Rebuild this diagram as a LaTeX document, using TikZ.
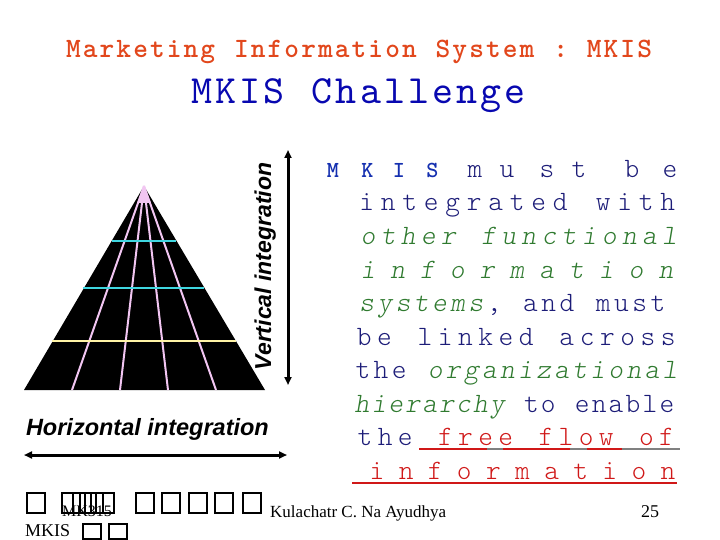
\documentclass[tikz,border=0pt]{standalone}
\usepackage{fontspec}
\usetikzlibrary{arrows.meta}
\newfontfamily\cour{lmmonolt10-regular}[Extension=.otf]
\newfontfamily\courit{lmmonolt10-oblique}[Extension=.otf]
\newfontfamily\courm{lmmono10-regular}[Extension=.otf]
\newfontfamily\courb{lmmonolt10-bold}[Extension=.otf]
\newfontfamily\arialf{Liberation Sans}
\newfontfamily\tnr{Liberation Serif}
\definecolor{titlered}{HTML}{E2471C}
\definecolor{chblue}{HTML}{0808B0}
\definecolor{navy}{HTML}{1C1C78}
\definecolor{greenc}{HTML}{2F7A2F}
\definecolor{redc}{HTML}{D01818}
\definecolor{mkisblue}{HTML}{1530B0}
\definecolor{pinkc}{HTML}{F2C6F2}
\definecolor{cyanc}{HTML}{3FD6E0}
\definecolor{yellowc}{HTML}{FFF3A6}
\definecolor{grayc}{HTML}{808080}
\makeatletter
\def\spc@end{\spc@end}
\newcommand\spread[2]{\def\spc@p{#1}\spc@go#2\spc@end}
\def\spc@go#1{\ifx#1\spc@end\else\hbox to \spc@p{\hss#1\hss}\expandafter\spc@go\fi}
\makeatother
\newcommand\bodyfont{\cour\fontsize{28}{28}\selectfont}
\tikzset{
  lbl/.style={inner sep=0pt,outer sep=0pt,anchor=base west},
  chr/.style={inner sep=0pt,outer sep=0pt,anchor=base},
  pinkline/.style={draw=pinkc,line width=2pt},
  bar/.style={line width=2.8pt},
  dblarrow/.style={line width=3pt,{Triangle[length=8pt,width=7pt]}-{Triangle[length=8pt,width=7pt]}},
  ulred/.style={draw=redc,line width=2.4pt},
  ulgray/.style={draw=grayc,line width=2.4pt},
  tofu/.style={draw,line width=1.8pt,minimum width=18pt,minimum height=20pt,inner sep=0pt,anchor=north west},
  tofub/.style={tofu,minimum height=15pt},
  foot/.style={inner sep=0pt,anchor=base west,font=\tnr\fontsize{17}{17}\selectfont}
}
\begin{document}
\begin{tikzpicture}[x=1pt,y=-1pt]
\useasboundingbox[fill=white] (0,0) rectangle (720,540);
% titles
\node[lbl,text=titlered,font=\courb\fontsize{28}{28}\selectfont] (title) at (65,58)
  {\spread{16.8pt}{Marketing~Information~System~:~MKIS}};
\node[lbl,text=chblue,font=\courm\fontsize{40}{40}\selectfont] (sub) at (190,104)
  {\spread{24.07pt}{MKIS~Challenge}};
% pyramid
\coordinate (apex) at (144,186);
\coordinate (bl) at (24,390);
\coordinate (br) at (265,390);
\fill[black] (apex) -- (bl) -- (br) -- cycle;
\fill[pinkc] (apex) -- (137,203) -- (151,203) -- cycle;
\coordinate (p1) at (72,390);
\coordinate (p2) at (120,390);
\coordinate (p3) at (168,390);
\coordinate (p4) at (216,390);
\foreach \p in {p1,p2,p3,p4} \draw[pinkline] (apex) -- (\p);
\coordinate (c1a) at (112,241); \coordinate (c1b) at (176,241);
\coordinate (c2a) at (83,288);  \coordinate (c2b) at (204,288);
\coordinate (y1a) at (52,341);  \coordinate (y1b) at (236,341);
\draw[bar,cyanc] (c1a) -- (c1b);
\draw[bar,cyanc] (c2a) -- (c2b);
\draw[bar,yellowc] (y1a) -- (y1b);
% vertical integration
\node[chr,rotate=90,font=\arialf\bfseries\itshape\fontsize{23}{23}\selectfont] (vint) at (271,266.5) {Vertical integration};
\coordinate (vtop) at (288,150);
\coordinate (vbot) at (288,385);
\draw[dblarrow] (vtop) -- (vbot);
% horizontal integration
\node[lbl,font=\arialf\bfseries\itshape\fontsize{23.5}{23.5}\selectfont] (hint) at (26,435) {Horizontal integration};
\coordinate (hl) at (24,455);
\coordinate (hr) at (287,455);
\draw[dblarrow] (hl) -- (hr);
% right text
\foreach \c/\x in {M/333,K/367.5,I/399,S/432.5}
  \node[chr,text=mkisblue,font=\courb\fontsize{23}{23}\selectfont] (c\c) at (\x,177.5) {\c};
\foreach \c/\x in {m/475,u/507,s/547,t/579,b/632,e/670}
  \node[chr,text=navy,font=\bodyfont] (w\c) at (\x,177.5) {\c};
\node[lbl] (l2) at (356,211) {\bodyfont\color{navy}\spread{21.5pt}{integrated~with}};
\node[lbl] (l3) at (358,244.5) {\bodyfont\courit\color{greenc}\spread{20.1pt}{other~functional}};
\node[lbl] (l4) at (353,278) {\bodyfont\courit\color{greenc}\spread{29.8pt}{information}};
\node[lbl] (l5) at (357.6,311.5) {\bodyfont{\courit\color{greenc}\spread{18.2pt}{systems}}{\color{navy}\spread{18.2pt}{,~and~must}}};
\node[lbl] (l6) at (354,345) {\bodyfont\color{navy}\spread{20.27pt}{be~linked~across}};
\node[lbl] (l7) at (354,378.5) {\bodyfont{\color{navy}\spread{18.06pt}{the~}}{\courit\color{greenc}\spread{18.06pt}{organizational}}};
\node[lbl] (l8) at (353.5,412) {\bodyfont{\courit\color{greenc}\spread{16.94pt}{hierarchy}}{\color{navy}\spread{16.94pt}{~to~enable}}};
\node[lbl] (l9) at (355,445.5) {\bodyfont{\color{navy}\spread{20.1pt}{the}}{\color{redc}\spread{20.1pt}{~free~flow~of}}};
\node[lbl] (l10) at (362.5,479) {\bodyfont\color{redc}\spread{29.1pt}{information}};
% underlines
\draw[ulred] (419,449) -- (487,449);
\draw[ulgray] (487,449) -- (503,449);
\draw[ulred] (503,449) -- (570,449);
\draw[ulgray] (570,449) -- (587,449);
\draw[ulred] (587,449) -- (622,449);
\draw[ulgray] (622,449) -- (680,449);
\draw[ulred] (352,483) -- (677,483);
% footer
\foreach \x [count=\i] in {26,61,72,84,95,135,161,188,214,242}
  \node[tofu] (t\i) at (\x,492) {};
\node[foot,font=\tnr\fontsize{16}{16}\selectfont] (mk) at (62,516) {MK315};
\node[foot] (kul) at (270,517) {Kulachatr C. Na Ayudhya};
\node[foot,font=\tnr\fontsize{18}{18}\selectfont] (pg) at (641,517) {25};
\node[foot,font=\tnr\fontsize{18}{18}\selectfont] (mkis) at (25,536.5) {MKIS};
\node[tofub] (u1) at (82,523) {};
\node[tofub] (u2) at (108,523) {};
\end{tikzpicture}
\end{document}
